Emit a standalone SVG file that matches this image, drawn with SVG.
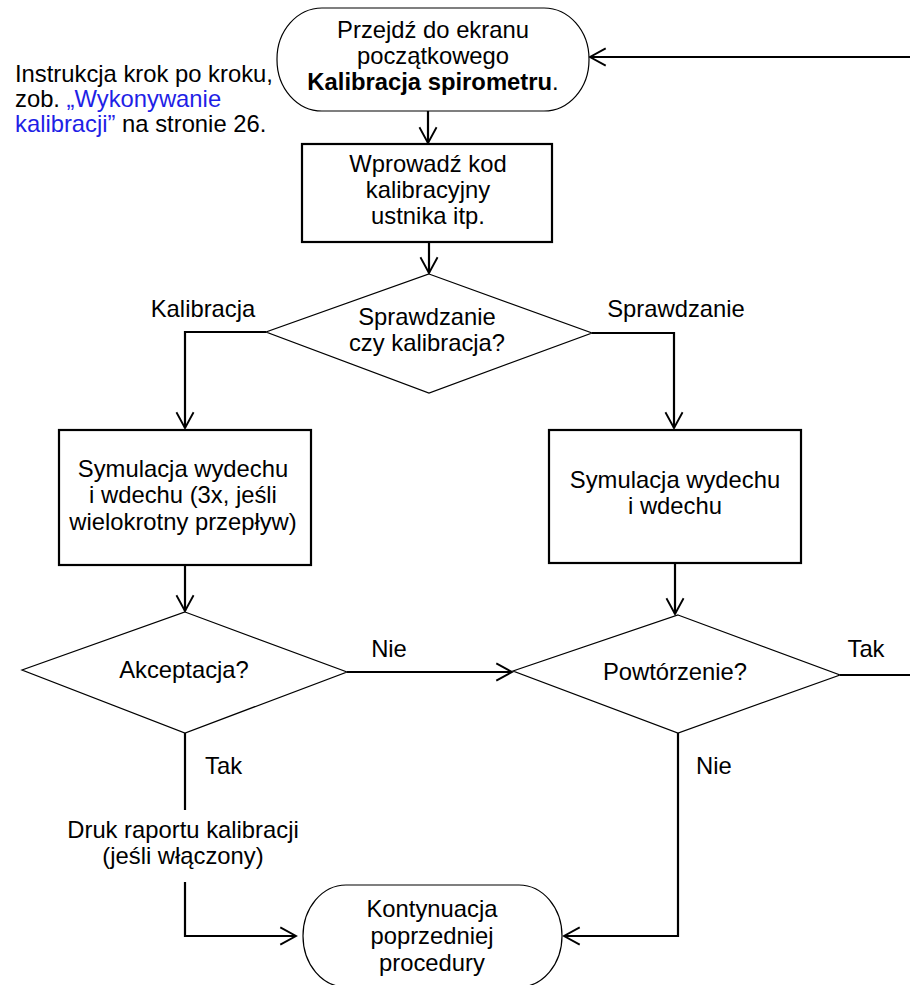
<svg xmlns="http://www.w3.org/2000/svg" width="910" height="985" viewBox="0 0 910 985">
<style>
text{font-family:"Liberation Sans",Arial,sans-serif;font-size:23.8px;fill:#000}
.c{text-anchor:middle}
.b{font-weight:bold}
.blue{fill:#1f1fe6}
.term{fill:#fff;stroke:#000;stroke-width:1.2}
.box{fill:#fff;stroke:#000;stroke-width:2.2}
.dia{fill:#fff;stroke:#000;stroke-width:1.2}
.con{fill:none;stroke:#000;stroke-width:2.2}
</style>
<defs>
<marker id="ah" markerUnits="userSpaceOnUse" markerWidth="20" markerHeight="20" refX="12" refY="7" orient="auto" viewBox="0 0 14 14">
<path d="M1,1 L12,7 L1,13" fill="none" stroke="#000" stroke-width="1.3"/>
</marker>
</defs>
<g id="connectors">
<path class="con" d="M910,57 L590,57" marker-end="url(#ah)"/>
<path class="con" d="M428,111 L428,143" marker-end="url(#ah)"/>
<path class="con" d="M429,242 L429,273" marker-end="url(#ah)"/>
<path class="con" d="M266,332 L185,332 L185,428" marker-end="url(#ah)"/>
<path class="con" d="M592,333 L674,333 L674,428" marker-end="url(#ah)"/>
<path class="con" d="M185,565 L185,611" marker-end="url(#ah)"/>
<path class="con" d="M675,563 L675,614" marker-end="url(#ah)"/>
<path class="con" d="M347,672 L512,672" marker-end="url(#ah)"/>
<path class="con" d="M840,675 L910,675"/>
<path class="con" d="M185,733 L185,810"/>
<path class="con" d="M185,882 L185,936 L296,936" marker-end="url(#ah)"/>
<path class="con" d="M678,733 L678,936 L564,936" marker-end="url(#ah)"/>
<text class="c" x="203" y="317">Kalibracja</text>
<text class="c" x="676" y="317">Sprawdzanie</text>
<text class="c" x="389" y="657">Nie</text>
<text class="c" x="866" y="657">Tak</text>
<text x="205" y="774">Tak</text>
<text x="696" y="774">Nie</text>
</g>
<g id="note">
<text x="15" y="82">Instrukcja krok po kroku,</text>
<text x="15" y="107">zob. <tspan class="blue">„Wykonywanie</tspan></text>
<text x="15" y="132"><tspan class="blue">kalibracji”</tspan> na stronie 26.</text>
</g>
<g id="start">
<rect class="term" x="277" y="8" width="312" height="103" rx="45" ry="51"/>
<text class="c" x="433" y="38">Przejdź do ekranu</text>
<text class="c" x="433" y="64">początkowego</text>
<text class="c" x="433" y="90"><tspan class="b">Kalibracja spirometru</tspan>.</text>
</g>
<g id="enter-code">
<rect class="box" x="302" y="144" width="250" height="98"/>
<text class="c" x="428" y="172">Wprowadź kod</text>
<text class="c" x="428" y="198">kalibracyjny</text>
<text class="c" x="428" y="224">ustnika itp.</text>
</g>
<g id="check-or-cal">
<polygon class="dia" points="429,274 592,333 429,393 266,332"/>
<text class="c" x="427" y="325">Sprawdzanie</text>
<text class="c" x="427" y="351">czy kalibracja?</text>
</g>
<g id="sim-cal">
<rect class="box" x="59" y="430" width="252" height="135"/>
<text class="c" x="183" y="477">Symulacja wydechu</text>
<text class="c" x="183" y="503">i wdechu (3x, jeśli</text>
<text class="c" x="183" y="530">wielokrotny przepływ)</text>
</g>
<g id="sim-check">
<rect class="box" x="549" y="430" width="252" height="133"/>
<text class="c" x="675" y="488">Symulacja wydechu</text>
<text class="c" x="675" y="514">i wdechu</text>
</g>
<g id="accept">
<polygon class="dia" points="185,612 347,672 185,733 22,670"/>
<text class="c" x="184" y="678">Akceptacja?</text>
</g>
<g id="repeat">
<polygon class="dia" points="678,615 840,675 678,733 513,671"/>
<text class="c" x="675" y="680">Powtórzenie?</text>
</g>
<g id="print">
<text class="c" x="183" y="838">Druk raportu kalibracji</text>
<text class="c" x="183" y="864">(jeśli włączony)</text>
</g>
<g id="continue">
<rect class="term" x="303" y="885" width="259" height="102" rx="43" ry="51"/>
<text class="c" x="432" y="917">Kontynuacja</text>
<text class="c" x="432" y="944">poprzedniej</text>
<text class="c" x="432" y="971">procedury</text>
</g>
</svg>
